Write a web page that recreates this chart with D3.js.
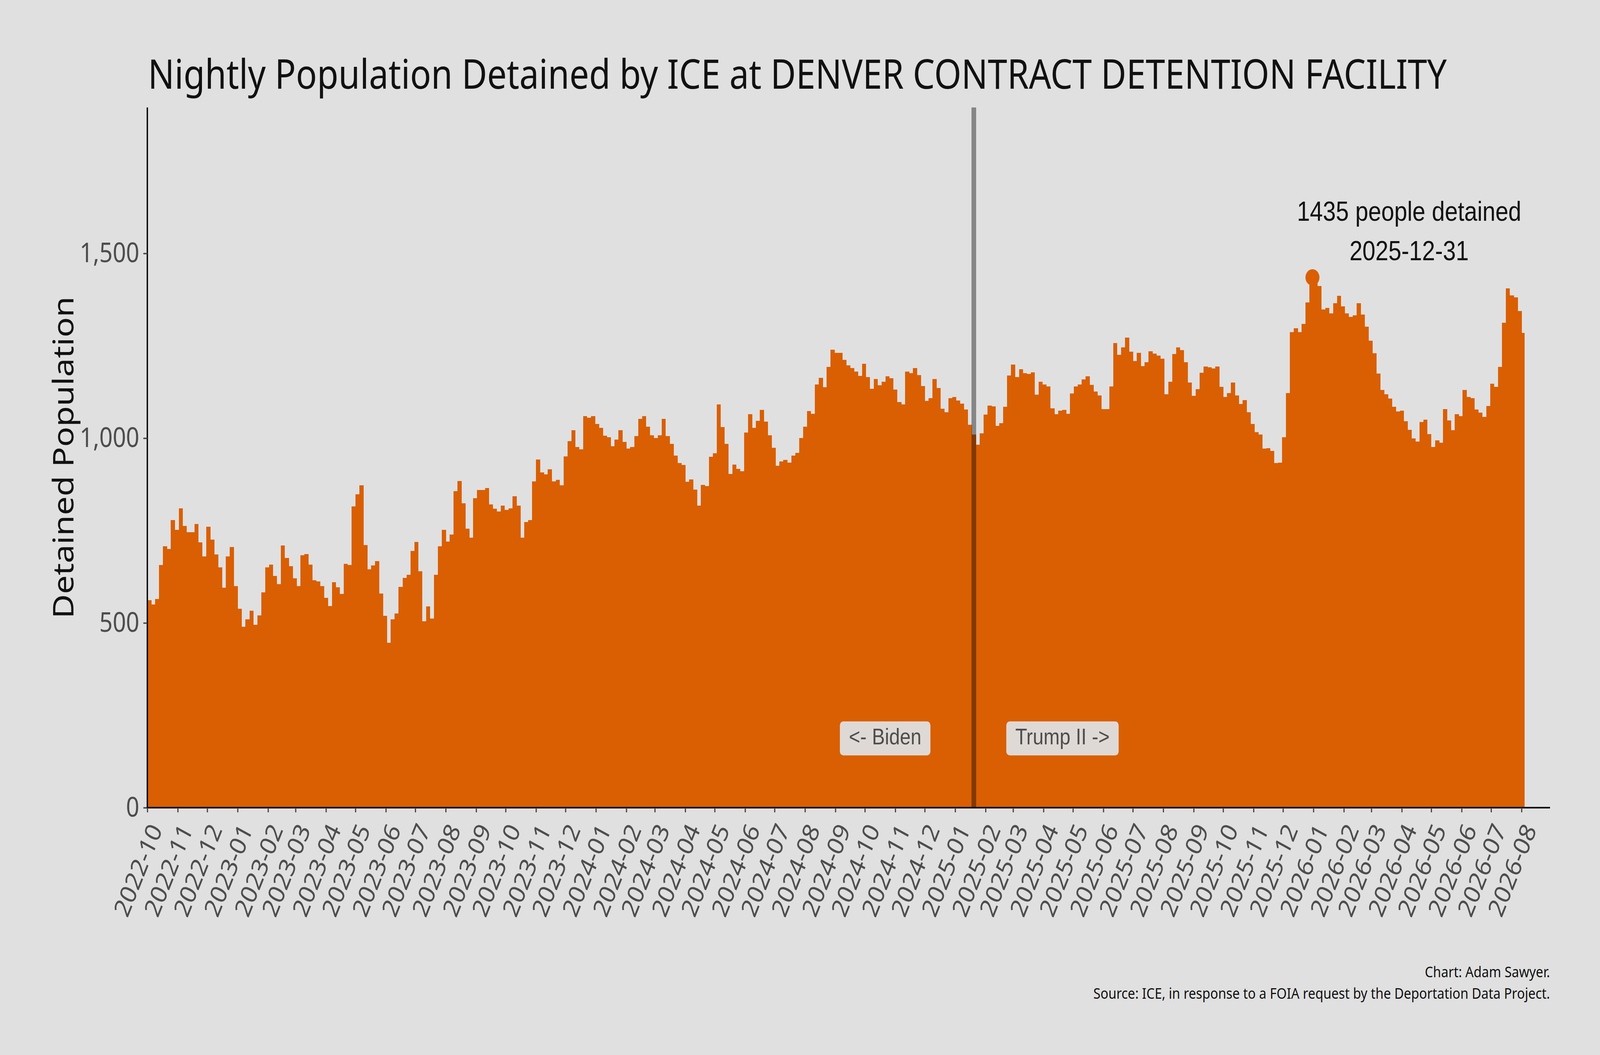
<!DOCTYPE html>
<html>
<head>
<meta charset="utf-8">
<script src="https://cdn.jsdelivr.net/npm/d3@7"></script>
<style>
  html, body { margin: 0; padding: 0; background: #e0e0e0; overflow: hidden; }
  #chart { width: 100vw; height: 100vh; }
  svg { display: block; }
</style>
</head>
<body>
<div id="chart"></div>
<script>
// 数据：每4天一个柱
const binStart = "2022-10-01";
const binDays = 4;
const dataEnd = "2026-08-04";
const population = [
  562, 550, 565, 657, 707, 700, 778, 752, 810, 762, 745, 745, 768, 718, 680, 760, 725, 685, 650, 595,
  680, 705, 600, 538, 490, 510, 533, 495, 520, 583, 650, 658, 627, 605, 710, 676, 654, 621, 600, 683,
  686, 658, 615, 612, 600, 568, 546, 610, 596, 578, 660, 657, 815, 848, 872, 711, 645, 656, 667, 579,
  519, 446, 510, 526, 597, 622, 630, 695, 719, 640, 504, 545, 512, 630, 707, 752, 720, 739, 857, 884,
  824, 755, 731, 838, 860, 860, 865, 821, 809, 802, 817, 806, 810, 843, 817, 731, 773, 778, 883, 942,
  907, 902, 916, 883, 887, 872, 951, 992, 1022, 976, 970, 1060, 1055, 1060, 1038, 1028, 1007, 1002, 978, 996,
  1022, 990, 972, 976, 1006, 1052, 1060, 1031, 1008, 1000, 1008, 1052, 1006, 985, 953, 933, 927, 882, 888, 861,
  817, 873, 870, 950, 959, 1091, 1030, 984, 903, 928, 917, 911, 1015, 1065, 1028, 1047, 1076, 1045, 1008, 974,
  925, 937, 941, 934, 953, 960, 1000, 1031, 1073, 1066, 1145, 1163, 1138, 1193, 1239, 1231, 1231, 1212, 1197, 1190,
  1180, 1168, 1201, 1165, 1134, 1160, 1143, 1153, 1167, 1162, 1131, 1098, 1091, 1180, 1176, 1190, 1171, 1141, 1101, 1108,
  1160, 1136, 1080, 1070, 1108, 1111, 1102, 1093, 1078, 1036, 1010, 982, 1013, 1064, 1088, 1086, 1033, 1041, 1085, 1170,
  1199, 1165, 1186, 1176, 1174, 1178, 1118, 1153, 1145, 1140, 1081, 1065, 1074, 1077, 1066, 1121, 1140, 1145, 1159, 1167,
  1144, 1126, 1116, 1079, 1079, 1140, 1257, 1226, 1246, 1272, 1234, 1209, 1231, 1195, 1206, 1235, 1229, 1224, 1215, 1119,
  1153, 1228, 1246, 1238, 1206, 1151, 1115, 1133, 1177, 1194, 1192, 1189, 1194, 1139, 1111, 1122, 1151, 1116, 1092, 1103,
  1070, 1038, 1016, 1010, 972, 973, 966, 933, 934, 1002, 1122, 1287, 1298, 1287, 1309, 1367, 1435, 1428, 1412, 1348,
  1352, 1338, 1365, 1385, 1357, 1338, 1328, 1332, 1365, 1335, 1302, 1264, 1230, 1175, 1130, 1119, 1107, 1085, 1072, 1074,
  1046, 1023, 999, 991, 1044, 1050, 1011, 976, 994, 988, 1079, 1048, 1022, 1065, 1060, 1130, 1111, 1108, 1078, 1069,
  1057, 1087, 1147, 1139, 1193, 1312, 1405, 1386, 1381, 1344, 1285
];

// 坐标轴和注释
const yTicks = [0, 500, 1000, 1500];
const xDomain = ["2022-10-01", "2026-08-30"];
const yMax = 1895;
const peakDate = "2025-12-31";
const peakValue = 1435;
const inaugurationDate = "2025-01-20";
const eraLabels = ["<- Biden", "Trump II ->"];
const eraLabelValue = 171;

const titleText = "Nightly Population Detained by ICE at DENVER CONTRACT DETENTION FACILITY";
const yLabelText = "Detained Population";
const footerLines = [
  "Chart: Adam Sawyer.",
  "Source: ICE, in response to a FOIA request by the Deportation Data Project."
];

// 尺寸（viewBox 坐标，页面按窗口大小铺满）
const W = 4800, H = 2700;
const plot = { left: 442, right: 4650, top: 275, bottom: 2067 };
const barColor = "#d95f02";
const sans = "'Noto Sans', 'Open Sans', sans-serif";
const arial = "'Liberation Sans', Arial, sans-serif";

const parse = d3.utcParse("%Y-%m-%d");

const x = d3.scaleUtc()
  .domain(xDomain.map(parse))
  .range([plot.left, plot.right]);

const y = d3.scaleLinear()
  .domain([0, yMax])
  .range([plot.bottom, plot.top]);

const svg = d3.select("#chart")
  .append("svg")
  .attr("width", "100%")
  .attr("height", "100%")
  .attr("viewBox", `0 0 ${W} ${H}`)
  .attr("preserveAspectRatio", "none");

svg.append("rect")
  .attr("width", W)
  .attr("height", H)
  .attr("fill", "#e0e0e0");

// 柱子
const start = parse(binStart);
const end = parse(dataEnd);
const bins = population.map((v, i) => {
  const d0 = d3.utcDay.offset(start, i * binDays);
  let d1 = d3.utcDay.offset(start, (i + 1) * binDays);
  if (d1 > end) d1 = end;
  return { d0, d1, v };
});

svg.append("g")
  .attr("shape-rendering", "crispEdges")
  .selectAll("rect")
  .data(bins)
  .join("rect")
  .attr("x", d => x(d.d0))
  .attr("width", d => x(d.d1) - x(d.d0) + 0.6)
  .attr("y", d => y(d.v))
  .attr("height", d => y(0) - y(d.v))
  .attr("fill", barColor);

// 就职日竖线
const lineX = x(parse(inaugurationDate));
svg.append("line")
  .attr("x1", lineX).attr("x2", lineX)
  .attr("y1", plot.top).attr("y2", plot.bottom)
  .attr("stroke", "#000")
  .attr("stroke-opacity", 0.4)
  .attr("stroke-width", 14);

// Y轴
const yAxis = svg.append("g")
  .attr("transform", `translate(${plot.left},0)`)
  .call(d3.axisLeft(y)
    .tickValues(yTicks)
    .tickFormat(d3.format(","))
    .tickSizeInner(12)
    .tickSizeOuter(0)
    .tickPadding(12));

// X轴
const months = d3.utcMonth.range(parse("2022-10-01"), parse("2026-08-02"));
const xAxis = svg.append("g")
  .attr("transform", `translate(0,${plot.bottom})`)
  .call(d3.axisBottom(x)
    .tickValues(months)
    .tickFormat(d3.utcFormat("%Y-%m"))
    .tickSizeInner(12)
    .tickSizeOuter(0));

[yAxis, xAxis].forEach(ax => {
  ax.select(".domain")
    .attr("stroke", "#000")
    .attr("stroke-width", 4);
  ax.selectAll(".tick line")
    .attr("stroke", "#444")
    .attr("stroke-width", 3.5);
  ax.selectAll(".tick text")
    .attr("fill", "#4d4d4d")
    .attr("font-family", sans)
    .attr("font-size", 70);
});
// 两条轴线在左下角补齐
yAxis.select(".domain").attr("d", `M0,${plot.top}V${plot.bottom + 2}`);
xAxis.select(".domain").attr("d", `M${plot.left - 2},0H${plot.right}`);

xAxis.selectAll(".tick text")
  .attr("font-size", 67)
  .attr("x", 0)
  .attr("y", 0)
  .attr("dy", 0)
  .attr("text-anchor", "end")
  .attr("transform", "translate(46,56) rotate(-65)");

// 峰值点和注释
const px = x(parse(peakDate));
const py = y(peakValue);
svg.append("circle")
  .attr("cx", px)
  .attr("cy", py)
  .attr("r", 21)
  .attr("fill", barColor);

const ann = svg.append("text")
  .attr("font-family", arial)
  .attr("font-size", 70)
  .attr("fill", "#111")
  .attr("text-anchor", "middle");
ann.append("tspan")
  .attr("x", px + 290)
  .attr("y", py - 145)
  .text(`${peakValue} people detained`);
ann.append("tspan")
  .attr("x", px + 290)
  .attr("y", py - 44)
  .text(peakDate);

// 时期标签
const labelBase = y(eraLabelValue);
eraLabels.forEach((txt, i) => {
  const cx = lineX + (i === 0 ? -266 : 266);
  const g = svg.append("g");
  const t = g.append("text")
    .attr("x", cx)
    .attr("y", labelBase)
    .attr("text-anchor", "middle")
    .attr("font-family", arial)
    .attr("font-size", 58)
    .attr("fill", "#4d4d4d")
    .text(txt);
  const w = t.node().getComputedTextLength();
  g.insert("rect", "text")
    .attr("x", cx - w / 2 - 27)
    .attr("y", labelBase - 59)
    .attr("width", w + 54)
    .attr("height", 87)
    .attr("rx", 10)
    .attr("fill", "#dfd9d5");
});

// 按目标宽度调整字号
function fitWidth(sel, target) {
  const w = sel.node().getComputedTextLength();
  const fs = parseFloat(sel.attr("font-size"));
  sel.attr("font-size", fs * target / w);
  return fs * target / w;
}

// 标题
const title = svg.append("text")
  .attr("x", 444)
  .attr("y", 227)
  .attr("font-family", sans)
  .attr("font-size", 110)
  .attr("fill", "#111")
  .text(titleText);
fitWidth(title, 3897);

// Y轴标题
const yLab = svg.append("text")
  .attr("transform", `translate(220,1171) rotate(-90)`)
  .attr("text-anchor", "middle")
  .attr("font-family", sans)
  .attr("font-size", 96)
  .attr("fill", "#111")
  .text(yLabelText);
fitWidth(yLab, 824);

// 脚注
const foot = svg.append("g")
  .attr("font-family", sans)
  .attr("fill", "#111")
  .attr("text-anchor", "end");
const f2 = foot.append("text")
  .attr("x", plot.right)
  .attr("y", 2556)
  .attr("font-size", 40)
  .text(footerLines[1]);
const fs = fitWidth(f2, 1370);
foot.append("text")
  .attr("x", plot.right)
  .attr("y", 2556 - fs * 1.4)
  .attr("font-size", fs)
  .text(footerLines[0]);
</script>
</body>
</html>
